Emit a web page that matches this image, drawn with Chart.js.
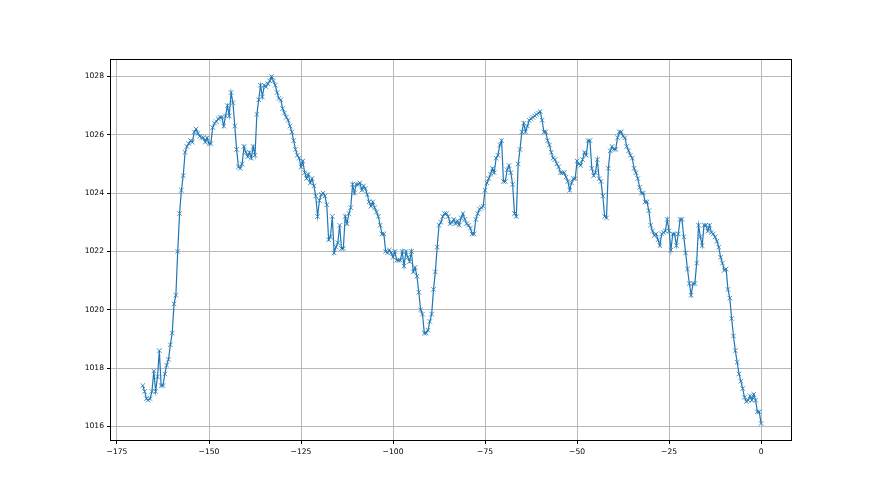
<!DOCTYPE html>
<html>
<head>
<meta charset="utf-8">
<script src="https://cdn.jsdelivr.net/npm/chart.js@4"></script>
<style>
  body { margin: 0; background: #fff; }
</style>
</head>
<body>
<canvas id="grafico" width="880" height="495"></canvas>
<script>
// hours before now: first reading and spacing
const startHour = -168;
const stepHour = 0.5;

// pressure readings (hPa)
const pressure = [
  1017.4, 1017.2, 1016.95, 1016.9, 1016.95, 1017.2, 1017.9, 1017.2, 1017.7, 1018.6,
  1017.4, 1017.4, 1017.8, 1018.1, 1018.3, 1018.8, 1019.2, 1020.2, 1020.5, 1022.0,
  1023.3, 1024.1, 1024.6, 1025.4, 1025.6, 1025.7, 1025.8, 1025.75, 1026.1, 1026.2,
  1026.05, 1025.95, 1025.9, 1025.9, 1025.75, 1025.9, 1025.7, 1025.7, 1026.25, 1026.4,
  1026.45, 1026.55, 1026.6, 1026.6, 1026.3, 1026.65, 1027.0, 1026.65, 1027.45,

  1027.1, 1026.3, 1025.5, 1024.9, 1024.85, 1025.0, 1025.6, 1025.4, 1025.25, 1025.4,
  1025.2, 1025.6, 1025.3, 1026.7, 1027.2, 1027.7, 1027.3, 1027.7, 1027.65, 1027.75,
  1027.85, 1028.0, 1027.85, 1027.7, 1027.45, 1027.25, 1027.2, 1026.9, 1026.75, 1026.6,
  1026.5, 1026.3, 1026.1, 1025.8, 1025.5, 1025.3, 1025.2, 1024.9, 1025.1, 1024.7,
  1024.5, 1024.65, 1024.35, 1024.5, 1024.25, 1023.9, 1023.2, 1023.75, 1023.95, 1024.0,

  1023.9, 1023.6, 1022.4, 1022.5, 1023.2, 1021.95, 1022.15, 1022.3, 1022.9, 1022.1,
  1022.1, 1023.2, 1022.95, 1023.3, 1023.5, 1024.3, 1024.0, 1024.3, 1024.3, 1024.35,
  1024.1, 1024.25, 1024.15, 1023.95, 1023.7, 1023.55, 1023.7, 1023.5, 1023.35, 1023.2,
  1022.9, 1022.6, 1022.6, 1022.0, 1021.95, 1022.05, 1021.95, 1021.8, 1022.0, 1021.7,
  1021.7, 1021.7, 1022.0, 1021.5, 1022.0, 1021.8, 1021.65, 1022.0, 1021.3,

  1021.45, 1021.15, 1020.6, 1020.0, 1019.85, 1019.2, 1019.2, 1019.3, 1019.6, 1019.85,
  1020.7, 1021.3, 1022.15, 1022.9, 1023.0, 1023.2, 1023.3, 1023.3, 1023.2, 1022.95,
  1023.0, 1023.1, 1022.95, 1023.05, 1022.9, 1023.15, 1023.3, 1023.1, 1022.95, 1022.9,
  1022.8, 1022.6, 1022.6, 1023.1, 1023.3, 1023.45, 1023.5, 1023.55, 1024.1, 1024.35,
  1024.5, 1024.65, 1024.85, 1024.7, 1025.2, 1025.3, 1025.65, 1025.8,

  1024.4, 1024.4, 1024.8, 1024.95, 1024.7, 1024.3, 1023.3, 1023.2, 1025.0, 1025.5,
  1026.1, 1026.4, 1026.1, 1026.3, 1026.5, 1026.55, 1026.6, 1026.65, 1026.7, 1026.75, 1026.8,
  1026.5, 1026.1, 1026.1, 1025.8, 1025.65, 1025.4, 1025.2, 1025.15, 1025.0, 1024.9,
  1024.7, 1024.7, 1024.7, 1024.55, 1024.4, 1024.1, 1024.35, 1024.5, 1024.5, 1025.1, 1025.0,
  1024.95, 1025.15, 1025.4, 1025.3, 1025.8, 1025.8,

  1024.85, 1024.6, 1024.7, 1025.15, 1024.5, 1024.4, 1023.9, 1023.2, 1023.15, 1024.85,
  1025.45, 1025.6, 1025.5, 1025.5, 1025.9, 1026.1, 1026.1, 1025.95, 1025.9, 1025.6,
  1025.45, 1025.3, 1025.2, 1024.85, 1024.7, 1024.5, 1024.2, 1024.0, 1024.0, 1023.7,
  1023.7, 1023.4, 1022.9, 1022.7, 1022.55, 1022.6, 1022.4, 1022.2, 1022.6, 1022.65,
  1022.7, 1023.1, 1022.7, 1022.05, 1022.6, 1022.6, 1022.2, 1022.6, 1023.1,

  1023.1, 1022.5, 1021.95, 1021.4, 1020.9, 1020.5, 1020.9, 1020.9, 1021.6, 1022.9,
  1022.5, 1022.2, 1022.9, 1022.9, 1022.7, 1022.9, 1022.65, 1022.6, 1022.5, 1022.35,
  1022.15, 1021.8, 1021.6, 1021.35, 1021.4, 1020.7, 1020.4, 1019.7, 1019.1, 1018.6,
  1018.2, 1017.8, 1017.55, 1017.3, 1017.0, 1016.85, 1016.9, 1017.05, 1016.9, 1017.1,
  1016.9, 1016.5, 1016.5, 1016.1
];

// axis limits and tick steps
const xLimits = [-176.9, 8.4];
const yLimits = [1015.5, 1028.6];
const xStep = 25;
const yStep = 2;

const lineColor = '#1f77b4';

// draws the top and right spines too (Chart.js only does left/bottom)
const framePlugin = {
  id: 'frame',
  afterDraw(chart) {
    const { ctx, chartArea: a } = chart;
    ctx.save();
    ctx.strokeStyle = '#000';
    ctx.lineWidth = 1;
    ctx.strokeRect(a.left + 0.5, a.top + 0.5, a.right - a.left - 1, a.bottom - a.top - 1);
    ctx.restore();
  }
};

function axisOptions(limits, step, fitSize, isX) {
  return {
    type: 'linear',
    min: limits[0],
    max: limits[1],
    border: { display: false },
    grid: {
      color: '#b8b8b8',
      lineWidth: 1,
      tickColor: '#000',
      tickLength: 3,
      drawTicks: true
    },
    ticks: {
      stepSize: step,
      includeBounds: false,
      autoSkip: false,
      maxRotation: 0,
      padding: 3,
      color: '#000',
      font: { family: 'DejaVu Sans', size: 7.6 },
      callback: v => (v < 0 ? '\u2212' + Math.abs(v) : String(v))
    },
    afterFit: scale => {
      if (isX) scale.height = fitSize; else scale.width = fitSize;
    }
  };
}

const ctx = document.getElementById('grafico').getContext('2d');
new Chart(ctx, {
  type: 'line',
  data: {
    datasets: [{
      data: pressure.map((p, i) => ({ x: startHour + i * stepHour, y: p })),
      borderColor: lineColor,
      backgroundColor: lineColor,
      borderWidth: 1.2,
      tension: 0,
      fill: false,
      pointStyle: 'crossRot',
      pointRadius: 3.2,
      pointBorderWidth: 0.8,
      pointBorderColor: lineColor,
      pointHoverRadius: 3.2
    }]
  },
  options: {
    responsive: false,
    animation: false,
    devicePixelRatio: 1,
    layout: {
      autoPadding: false,
      padding: { left: 0, right: 88, top: 59, bottom: 0 }
    },
    plugins: {
      legend: { display: false },
      tooltip: { enabled: false }
    },
    scales: {
      x: axisOptions(xLimits, xStep, 54, true),
      y: axisOptions(yLimits, yStep, 110, false)
    }
  },
  plugins: [framePlugin]
});
</script>
</body>
</html>
